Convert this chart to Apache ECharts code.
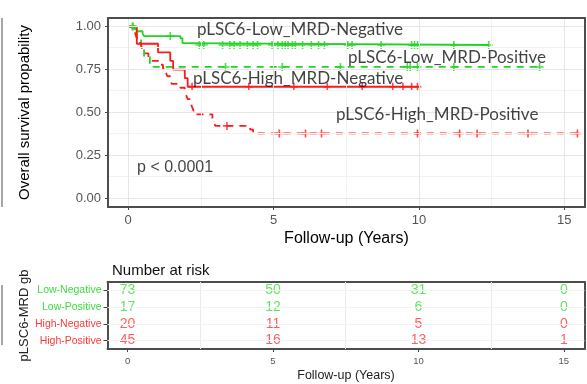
<!DOCTYPE html>
<html>
<head>
<meta charset="utf-8">
<script src="https://cdn.jsdelivr.net/npm/echarts@6/dist/echarts.min.js"></script>
<style>
  html, body { margin: 0; padding: 0; background: #fff; }
  #chart { width: 587px; height: 384px; }
</style>
</head>
<body>
<div id="chart"></div>
<script>
// Kaplan-Meier step curves: event times (years) and survival after each step
const lowNegTime = [0, 0.22, 0.3, 0.5, 0.55, 1.8, 1.87, 1.95, 12.4];
const lowNegSurv = [1, 0.986, 0.973, 0.959, 0.945, 0.932, 0.904, 0.893, 0.893];
const lowPosTime = [0, 0.3, 0.45, 0.55, 0.75, 14.15];
const lowPosSurv = [1, 0.941, 0.882, 0.824, 0.765, 0.765];
const highNegTime = [0, 0.3, 1.03, 1.45, 1.55, 1.95, 2.05, 10.0];
const highNegSurv = [1, 0.90, 0.85, 0.80, 0.75, 0.70, 0.65, 0.65];
const highPosTime = [0, 0.15, 0.25, 0.3, 0.4, 0.45, 0.5, 0.55, 0.7, 0.76, 1.1, 1.2, 1.3, 1.35, 1.45, 1.5,
  1.8, 1.95, 2.0, 2.05, 2.15, 2.2, 2.25, 2.35, 2.9, 2.95, 3.0, 4.2, 4.3, 15.6];
const highPosSurv = [1, 0.978, 0.956, 0.933, 0.911, 0.889, 0.867, 0.844, 0.822, 0.80, 0.778, 0.756, 0.733, 0.711, 0.689, 0.667,
  0.644, 0.622, 0.60, 0.578, 0.556, 0.533, 0.511, 0.489, 0.467, 0.444, 0.422, 0.40, 0.378, 0.378];

// Censoring times (years)
const lowNegCensor = [0.15, 1.45, 2.45, 2.6, 3.25, 3.5, 3.65, 3.85, 4.1, 4.3, 4.45, 4.95, 5.15, 5.3, 5.4, 5.5,
  5.65, 5.75, 6.0, 6.3, 6.55, 6.75, 7.55, 7.7, 8.7, 9.75, 9.85, 9.95, 11.2, 12.4];
const lowPosCensor = [0.17, 3.35, 5.3, 7.3, 9.6, 9.7, 9.95, 11.2, 14.15];
const highNegCensor = [2.2, 4.15, 5.7, 6.85, 8.05, 9.1, 9.45, 9.75, 9.95];
const highPosCensor = [3.4, 5.2, 6.1, 6.65, 9.95, 11.4, 12.0, 13.75, 15.45];

// Curve labels: [text, x (years), y (survival)]
const curveLabels = [
  ['pLSC6-Low_MRD-Negative', 2.37, 0.983],
  ['pLSC6-Low_MRD-Positive', 7.56, 0.82],
  ['pLSC6-High_MRD-Negative', 2.23, 0.695],
  ['pLSC6-High_MRD-Positive', 7.15, 0.49]
];
const pValueLabel = ['p < 0.0001', 0.31, 0.177];

// Number-at-risk table
const groups = ['Low-Negative', 'Low-Positive', 'High-Negative', 'High-Positive'];
const riskTimes = [0, 5, 10, 15];
const riskLowNeg = [73, 50, 31, 0];
const riskLowPos = [17, 12, 6, 0];
const riskHighNeg = [20, 11, 5, 0];
const riskHighPos = [45, 16, 13, 1];

const survTicks = [0, 0.25, 0.5, 0.75, 1];
const timeTicks = [0, 5, 10, 15];
const X_MIN = -0.69, X_MAX = 15.71, Y_MIN = -0.05, Y_MAX = 1.05;

const GREEN = '#22d422';
const RED = '#ff1a1a';
const GREEN_TXT = '#3ddc3d';
const RED_TXT = '#ff3838';
const FRAME_COLOR = '#4d4d4d';
const FRAME = { color: FRAME_COLOR, width: 2 };
const PLUS = 'path://M4,0H6V4H10V6H6V10H4V6H0V4H4Z';
const SANS = '"Liberation Sans", Arial, sans-serif';

function zip(a, b) { return a.map((v, i) => [v, b[i]]); }
function survAt(times, surv, t) {
  let s = surv[0];
  for (let i = 0; i < times.length; i++) { if (times[i] <= t) s = surv[i]; }
  return s;
}

function curve(times, surv, color, dashed) {
  return {
    type: 'line', xAxisIndex: 0, yAxisIndex: 0, step: 'end', showSymbol: false, z: 3,
    data: zip(times, surv),
    lineStyle: { color: color, width: 1.8, type: dashed ? [7, 6] : 'solid' },
    silent: true, animation: false
  };
}
function censors(censorTimes, times, surv, color) {
  return {
    type: 'scatter', xAxisIndex: 0, yAxisIndex: 0, symbol: PLUS, symbolSize: 8, z: 4,
    data: censorTimes.map(t => [t, survAt(times, surv, t)]),
    itemStyle: { color: color }, silent: true, animation: false
  };
}
function riskRow(name, values, color) {
  return {
    type: 'scatter', xAxisIndex: 1, yAxisIndex: 1, symbolSize: 0, z: 4,
    data: riskTimes.map((t, i) => [t, name, values[i]]),
    label: {
      show: true, position: 'inside', formatter: p => String(p.value[2]),
      color: color, textBorderWidth: 0, fontFamily: SANS, fontSize: 14
    },
    silent: true, animation: false
  };
}
// top / right frame edges: bare axes that only draw their line
function edgeX(gridIndex, pos) {
  return { type: 'value', gridIndex: gridIndex, position: pos, min: X_MIN, max: X_MAX,
    axisLine: { show: true, onZero: false, lineStyle: FRAME },
    axisTick: { show: false }, axisLabel: { show: false }, splitLine: { show: false } };
}
function edgeY(gridIndex, pos) {
  return { type: 'value', gridIndex: gridIndex, position: pos, min: 0, max: 1,
    axisLine: { show: true, onZero: false, lineStyle: FRAME },
    axisTick: { show: false }, axisLabel: { show: false }, splitLine: { show: false } };
}
function line(key, v, color, width) {
  return { [key]: v, lineStyle: { color: color, width: width, type: 'solid' } };
}

const majorV = [0, 5, 10, 15], minorV = [2.5, 7.5, 12.5];
const majorH = [0, 0.25, 0.5, 0.75, 1], minorH = [0.125, 0.375, 0.625, 0.875];

const chart = echarts.init(document.getElementById('chart'), null, { renderer: 'canvas' });

chart.setOption({
  animation: false,
  backgroundColor: '#ffffff',
  title: {
    text: 'Number at risk', left: 107, top: 258,
    textStyle: { fontFamily: SANS, fontSize: 15, fontWeight: 'normal', color: '#111' }
  },
  grid: [
    { left: 108, top: 18, width: 477, height: 189, outerBoundsMode: 'none' },
    { left: 107.5, top: 282, width: 477, height: 67, outerBoundsMode: 'none' }
  ],
  xAxis: [
    { type: 'value', gridIndex: 0, position: 'bottom', min: X_MIN, max: X_MAX,
      axisLine: { show: true, onZero: false, lineStyle: FRAME }, splitLine: { show: false },
      axisTick: { show: true, customValues: timeTicks, length: 3, lineStyle: { color: '#444' } },
      axisLabel: { customValues: timeTicks, color: '#555', fontFamily: SANS, fontSize: 13, margin: 7 },
      name: 'Follow-up (Years)', nameLocation: 'middle', nameGap: 24, nameMoveOverlap: false,
      nameTextStyle: { fontFamily: SANS, fontSize: 16, color: '#000' } },
    { type: 'value', gridIndex: 1, position: 'bottom', min: X_MIN, max: X_MAX,
      axisLine: { show: true, onZero: false, lineStyle: FRAME }, splitLine: { show: false },
      axisTick: { show: true, customValues: timeTicks, length: 3, lineStyle: { color: '#444' } },
      axisLabel: { customValues: timeTicks, color: '#555', fontFamily: SANS, fontSize: 9.5, margin: 7 },
      name: 'Follow-up (Years)', nameLocation: 'middle', nameGap: 20, nameMoveOverlap: false,
      nameTextStyle: { fontFamily: SANS, fontSize: 12.5, color: '#222' } },
    edgeX(0, 'top'),
    edgeX(1, 'top')
  ],
  yAxis: [
    { type: 'value', gridIndex: 0, position: 'left', min: Y_MIN, max: Y_MAX,
      axisLine: { show: true, onZero: false, lineStyle: FRAME }, splitLine: { show: false },
      axisTick: { show: true, customValues: survTicks, length: 3, lineStyle: { color: '#444' } },
      axisLabel: { customValues: survTicks, formatter: v => v.toFixed(2), color: '#555',
        fontFamily: SANS, fontSize: 13, margin: 7 },
      name: 'Overall survival propability', nameLocation: 'middle', nameRotate: 90, nameGap: 76,
      nameMoveOverlap: false,
      nameTextStyle: { fontFamily: SANS, fontSize: 15, color: '#000' } },
    { type: 'category', gridIndex: 1, position: 'left', data: groups, inverse: true,
      axisLine: { show: true, onZero: false, lineStyle: FRAME }, splitLine: { show: false },
      axisTick: { show: true, alignWithLabel: true, length: 4, lineStyle: { color: '#444' } },
      axisLabel: { color: (v, i) => (i < 2 ? GREEN_TXT : RED_TXT), fontFamily: SANS, fontSize: 10.5, margin: 6 },
      name: 'pLSC6-MRD gb', nameLocation: 'middle', nameRotate: 90, nameGap: 77, nameMoveOverlap: false,
      nameTextStyle: { fontFamily: SANS, fontSize: 13, color: '#222' } },
    edgeY(0, 'right'),
    edgeY(1, 'right')
  ],
  series: [
    // panel grid lines of the survival plot
    { type: 'line', xAxisIndex: 0, yAxisIndex: 0, data: [], silent: true, z: 1,
      markLine: {
        silent: true, symbol: ['none', 'none'], label: { show: false }, animation: false,
        data: [
          ...minorV.map(v => line('xAxis', v, '#f2f2f2', 1)),
          ...minorH.map(v => line('yAxis', v, '#f2f2f2', 1)),
          ...majorV.map(v => line('xAxis', v, '#e6e6e6', 1)),
          ...majorH.map(v => line('yAxis', v, '#e6e6e6', 1))
        ]
      } },
    // panel frame of the survival plot
    { type: 'line', xAxisIndex: 0, yAxisIndex: 0, data: [], silent: true, z: 10, clip: false,
      markLine: {
        silent: true, symbol: ['none', 'none'], label: { show: false }, animation: false, z: 10,
        data: [
          line('xAxis', X_MIN, FRAME_COLOR, 2), line('xAxis', X_MAX, FRAME_COLOR, 2),
          line('yAxis', Y_MIN, FRAME_COLOR, 2), line('yAxis', Y_MAX, FRAME_COLOR, 2)
        ]
      } },
    // grid lines of the risk table
    { type: 'line', xAxisIndex: 1, yAxisIndex: 1, data: [], silent: true, z: 1,
      markLine: {
        silent: true, symbol: ['none', 'none'], label: { show: false }, animation: false,
        data: [
          ...minorV.map(v => line('xAxis', v, '#ebebeb', 1)),
          ...groups.map(g => line('yAxis', g, '#f3f3f3', 1))
        ]
      } },
    curve(lowNegTime, lowNegSurv, GREEN, false),
    curve(lowPosTime, lowPosSurv, GREEN, true),
    curve(highNegTime, highNegSurv, RED, false),
    curve(highPosTime, highPosSurv, RED, true),
    censors(lowNegCensor, lowNegTime, lowNegSurv, GREEN),
    censors(lowPosCensor, lowPosTime, lowPosSurv, GREEN),
    censors(highNegCensor, highNegTime, highNegSurv, RED),
    censors(highPosCensor, highPosTime, highPosSurv, RED),
    // curve names and log-rank p value
    { type: 'scatter', xAxisIndex: 0, yAxisIndex: 0, symbolSize: 0, z: 5, silent: true,
      data: curveLabels.map(d => ({ value: [d[1], d[2]], name: d[0] })),
      label: { show: true, position: 'right', distance: 0, formatter: p => p.name,
        fontFamily: 'Lato, "Open Sans", sans-serif', fontSize: 17, color: '#111' } },
    { type: 'scatter', xAxisIndex: 0, yAxisIndex: 0, symbolSize: 0, z: 5, silent: true,
      data: [{ value: [pValueLabel[1], pValueLabel[2]], name: pValueLabel[0] }],
      label: { show: true, position: 'right', distance: 0, formatter: p => p.name,
        fontFamily: SANS, fontSize: 16, color: '#111' } },
    riskRow(groups[0], riskLowNeg, GREEN_TXT),
    riskRow(groups[1], riskLowPos, GREEN_TXT),
    riskRow(groups[2], riskHighNeg, RED_TXT),
    riskRow(groups[3], riskHighPos, RED_TXT)
  ],
  graphic: [
    { type: 'line', silent: true, shape: { x1: 2, y1: 18, x2: 2, y2: 207 }, style: { stroke: '#8a8a8a', lineWidth: 1.5 } },
    { type: 'line', silent: true, shape: { x1: 2, y1: 285, x2: 2, y2: 345 }, style: { stroke: '#8a8a8a', lineWidth: 1.5 } }
  ]
});
</script>
</body>
</html>
